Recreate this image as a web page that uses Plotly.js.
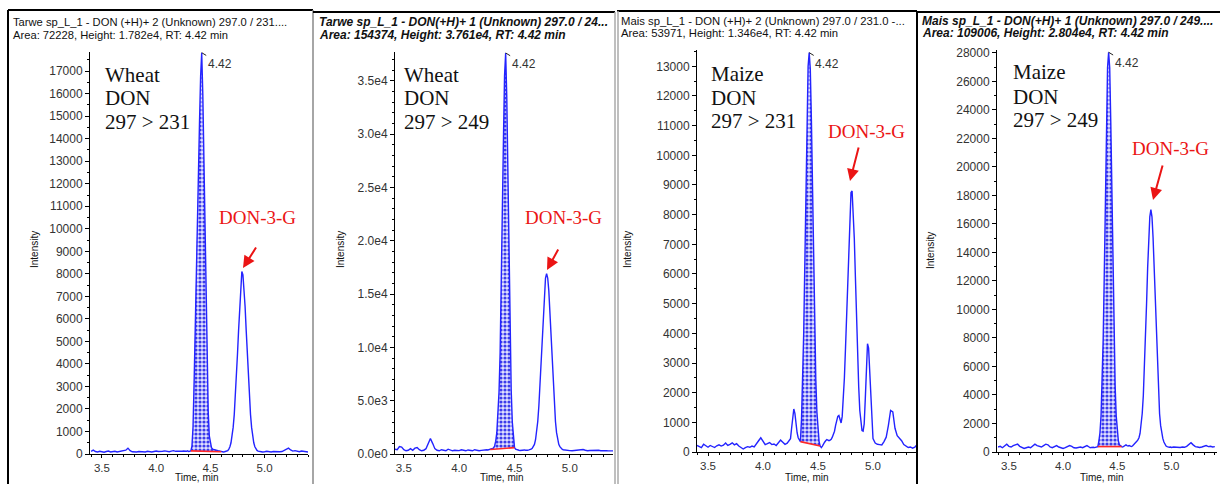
<!DOCTYPE html>
<html>
<head>
<meta charset="utf-8">
<script src="https://cdn.plot.ly/plotly-3.0.1.min.js"></script>
<style>html,body{margin:0;padding:0;background:#fff;}#chart{width:1220px;height:484px;}</style>
</head>
<body>
<div id="chart"></div>
<script>
// ---------------- DATA ----------------
const time = [
3.40,3.42,3.44,3.46,3.48,3.50,3.52,3.54,3.56,3.58,
3.60,3.62,3.64,3.66,3.68,3.70,3.72,3.74,3.76,3.78,
3.80,3.82,3.84,3.86,3.88,3.90,3.92,3.94,3.96,3.98,
4.00,4.02,4.04,4.06,4.08,4.10,4.12,4.14,4.16,4.18,
4.20,4.22,4.24,
4.25,4.26,4.27,4.28,4.29,4.30,4.31,4.32,4.33,4.34,
4.35,4.36,4.37,4.38,4.39,4.40,4.41,4.42,4.43,4.44,
4.45,4.46,4.47,4.48,4.49,4.50,4.51,4.52,4.53,4.54,
4.55,4.56,4.57,4.58,4.59,4.60,4.61,4.62,4.63,4.64,
4.65,4.66,4.67,4.68,4.69,4.70,4.71,4.72,4.73,4.74,
4.75,4.76,4.77,4.78,4.79,4.80,4.81,4.82,4.83,4.84,
4.85,4.86,4.87,4.88,4.89,4.90,4.91,4.92,4.93,4.94,
4.95,4.96,4.97,4.98,4.99,5.00,
5.02,5.04,5.06,5.08,5.10,5.12,5.14,5.16,5.18,5.20,
5.22,5.24,5.26,5.28,5.30,5.32,5.34,5.36,5.38,5.40];

const wheat231 = [
120,170,110,90,120,100,80,110,130,90,
100,120,90,110,100,130,170,260,150,100,
80,90,110,100,80,90,120,100,90,110,
130,110,100,120,140,110,100,130,150,120,
110,130,120,
130,120,110,120,140,110,120,140,350,1200,
3200,5800,8300,10600,12500,14800,16800,17820,16000,13000,
9800,6600,3800,1900,800,400,280,220,200,180,
170,160,150,140,120,100,100,90,100,110,
120,150,220,320,500,780,1180,1750,2500,3400,
4450,5500,6550,7400,8100,7950,7400,6550,5500,4450,
3400,2500,1750,1180,780,500,320,220,160,130,
110,120,100,90,110,100,
120,100,90,110,100,120,100,110,150,200,
260,180,130,150,120,100,130,110,100,90];

const wheat249 = [
500,450,400,700,650,400,300,350,500,350,
550,600,400,300,350,500,1000,1450,1000,500,
350,300,400,350,300,450,400,300,350,300,
320,400,350,300,380,350,300,400,350,300,
340,380,420,
400,380,400,420,440,480,550,750,1200,2000,
3500,5800,9500,15000,22000,29500,35500,37610,33500,26000,
18000,11000,6000,3000,1300,600,450,400,380,350,
330,350,380,400,380,350,330,350,380,400,
450,540,690,900,1340,2000,3050,4500,6400,8600,
11000,13300,15300,16500,16900,16500,15300,13300,11000,8600,
6400,4500,3050,2000,1340,900,690,540,450,400,
380,350,330,360,340,320,
300,330,350,320,380,420,350,300,330,350,
300,320,350,300,330,310,300,320,300,290];

const maize231 = [
220,180,150,260,200,160,220,180,150,210,
240,200,230,300,220,260,310,240,280,200,
160,100,150,180,160,200,170,260,380,480,
350,250,280,320,250,270,220,300,400,330,
260,300,380,
450,800,1250,1450,1300,900,650,480,400,350,
1100,2300,4000,6300,8900,11300,13000,13460,12900,11200,
8800,6300,4100,2450,1350,700,350,200,150,200,
280,330,380,420,400,380,400,430,500,580,
700,900,1100,1200,1230,1050,980,1200,1700,2500,
3500,4700,5900,7100,8100,8750,8800,8200,7200,5900,
4500,3200,2200,1400,950,720,700,950,1800,2900,
3650,3500,2700,1600,850,450,
300,260,250,240,350,500,900,1400,1350,800,
550,480,380,250,200,150,170,130,160,250];

const maize249 = [
350,400,300,450,550,400,350,450,500,550,
400,300,250,300,350,300,400,550,450,400,
350,450,550,500,350,300,350,450,350,300,
250,300,350,450,400,300,280,300,350,300,
400,450,350,
300,320,350,330,310,330,350,380,770,1350,
2540,4660,7990,12550,17900,23100,26950,28040,26950,23100,
17900,12550,7990,4660,2540,1350,770,500,420,380,
350,400,450,500,450,420,450,400,380,420,
500,550,600,750,850,1000,1300,1850,2700,3950,
5700,7900,10400,12900,15050,16500,17000,16500,15050,12900,
10400,7900,5700,3950,2700,1850,1300,950,700,500,
420,380,350,330,350,320,
350,330,300,320,350,330,400,550,650,500,
380,350,320,350,420,450,380,400,350,380];

const donStart = [4.32, 4.28, 4.34, 4.32];
const donEnd   = [4.60, 4.50, 4.52, 4.54];
const peakRT   = [4.42, 4.42, 4.42, 4.42];
const peakLabel = ["4.42", "4.42", "4.42", "4.42"];

const headerLine1 = [
  "Tarwe sp_L_1 - DON (+H)+ 2 (Unknown) 297.0 / 231....",
  "Tarwe sp_L_1 - DON(+H)+ 1 (Unknown) 297.0 / 24...",
  "Mais sp_L_1 - DON (+H)+ 2 (Unknown) 297.0 / 231.0 -...",
  "Mais sp_L_1 - DON(+H)+ 1 (Unknown) 297.0 / 249...."];
const headerLine2 = [
  "Area: 72228, Height: 1.782e4, RT: 4.42 min",
  "Area: 154374, Height: 3.761e4, RT: 4.42 min",
  "Area: 53971, Height: 1.346e4, RT: 4.42 min",
  "Area: 109006, Height: 2.804e4, RT: 4.42 min"];
const cropName = ["Wheat", "Wheat", "Maize", "Maize"];
const analyte = ["DON", "DON", "DON", "DON"];
const transition = ["297 > 231", "297 > 249", "297 > 231", "297 > 249"];
const glucosideLabel = "DON-3-G";
const yTitle = "Intensity";
const xTitle = "Time, min";
const xTickVals = [3.5, 4.0, 4.5, 5.0];
const xTickText = ["3.5", "4.0", "4.5", "5.0"];
const p2TickVals = [0, 5000, 10000, 15000, 20000, 25000, 30000, 35000];
const p2TickText = ["0.0e0", "5.0e3", "1.0e4", "1.5e4", "2.0e4", "2.5e4", "3.0e4", "3.5e4"];

const series = [wheat231, wheat249, maize231, maize249];

// ---------------- LAYOUT (pixel helpers) ----------------
const W = 1220, H = 484;
const px = v => v / W;
const py = v => 1 - v / H;
const boldHeader = [false, true, false, true];

const panels = [
  {xd:[90,308],  yd:[52,454], xr:[3.39,5.40], yr:[0,17850], dtick:1000, minor:500, hsize:11.2,
   hx:12, hy:[22,35], tx:104, ty:[75,98.5,122], gx:257, gy:218, arrow:[243,268,14,-22], ix:35, txc:197},
  {xd:[395,613], yd:[52,454], xr:[3.42,5.39], yr:[0,37700], dtick:null, minor:1000, hsize:12,
   hx:318, hy:[22,35], tx:403, ty:[75,98.5,122], gx:563, gy:218, arrow:[547,270,12,-22], ix:341, txc:502},
  {xd:[697,917], yd:[50,452], xr:[3.40,5.40], yr:[0,13550], dtick:1000, minor:500, hsize:11.3,
   hx:620, hy:[21,33], tx:710, ty:[74,97.5,121], gx:866, gy:131, arrow:[850,181,9,-35], ix:628, txc:807},
  {xd:[997,1217], yd:[50,452], xr:[3.39,5.42], yr:[0,28200], dtick:2000, minor:1000, hsize:12,
   hx:921, hy:[21,33], tx:1012, ty:[72,97,120], gx:1170, gy:148, arrow:[1153,200,10,-36], ix:931, txc:1102}
];

const tickFont = {family:"Liberation Sans, Arial, sans-serif", size:12, color:"#333"};
const xTickFont = {family:"Liberation Sans, Arial, sans-serif", size:11.5, color:"#333"};
const traces = [];
const layout = {
  width: W, height: H,
  margin: {l:0, r:0, t:0, b:0, pad:0},
  paper_bgcolor: "#fff", plot_bgcolor: "#fff",
  showlegend: false,
  annotations: [], shapes: []
};

panels.forEach((p, i) => {
  const sfx = i === 0 ? "" : String(i + 1);
  const xa = "x" + sfx, ya = "y" + sfx;
  const ys = series[i];

  // integrated DON peak (dotted fill)
  const fx = [], fy = [];
  time.forEach((t, k) => { if (t >= donStart[i] - 1e-9 && t <= donEnd[i] + 1e-9) { fx.push(t); fy.push(ys[k]); } });
  traces.push({x: fx, y: fy, xaxis: xa, yaxis: ya, mode: "lines", fill: "toself",
    line: {width: 0}, fillcolor: "rgb(226,226,255)",
    fillpattern: {shape: ".", fgcolor: "rgb(60,60,235)", bgcolor: "rgb(226,226,255)", size: 4, solidity: 0.5},
    hoverinfo: "skip"});
  // chromatogram line
  traces.push({x: time, y: ys, xaxis: xa, yaxis: ya, mode: "lines",
    line: {color: "rgb(35,35,255)", width: 1.4}, hoverinfo: "skip"});
  // red baseline
  traces.push({x: [fx[0], fx[fx.length - 1]], y: [fy[0], fy[fy.length - 1]], xaxis: xa, yaxis: ya,
    mode: "lines", line: {color: "rgb(255,40,40)", width: 1.6}, hoverinfo: "skip"});

  layout["xaxis" + sfx] = {
    domain: [px(p.xd[0]), px(p.xd[1])], range: p.xr, anchor: ya,
    showline: true, linecolor: "#000", linewidth: 1, mirror: false,
    ticks: "outside", ticklen: 3, tickcolor: "#000", tickwidth: 1,
    tickvals: xTickVals, ticktext: xTickText,
    minor: {dtick: 0.1, tick0: 3.5, ticks: "outside", ticklen: 2, tickcolor: "#000"},
    showgrid: false, zeroline: false, tickfont: xTickFont, fixedrange: true
  };
  const yax = {
    domain: [py(p.yd[1]), py(p.yd[0])], range: p.yr, anchor: xa,
    showline: true, linecolor: "#000", linewidth: 1,
    ticks: "outside", ticklen: 4, tickcolor: "#000", tickwidth: 1,
    minor: {dtick: p.minor, ticks: "outside", ticklen: 2, tickcolor: "#000"},
    showgrid: false, zeroline: false, tickfont: tickFont, fixedrange: true
  };
  if (p.dtick) { yax.dtick = p.dtick; yax.tick0 = 0; yax.tickformat = "d"; }
  else { yax.tickvals = p2TickVals; yax.ticktext = p2TickText; }
  layout["yaxis" + sfx] = yax;

  const ann = layout.annotations;
  const hfont = {family: "Liberation Sans, Arial, sans-serif", size: p.hsize, color: "#111"};
  const wrap = s => boldHeader[i] ? "<b><i>" + s + "</i></b>" : s;
  ann.push({xref: "paper", yref: "paper", x: px(p.hx), y: py(p.hy[0]), xanchor: "left", yanchor: "middle",
    text: wrap(headerLine1[i]), showarrow: false, font: hfont, borderpad: 0});
  ann.push({xref: "paper", yref: "paper", x: px(p.hx), y: py(p.hy[1]), xanchor: "left", yanchor: "middle",
    text: wrap(headerLine2[i]), showarrow: false, font: hfont, borderpad: 0});

  const sfont = {family: "Liberation Serif, Times New Roman, serif", size: 21, color: "#111"};
  [cropName[i], analyte[i], transition[i]].forEach((t, k) => {
    ann.push({xref: "paper", yref: "paper", x: px(p.tx), y: py(p.ty[k]), xanchor: "left", yanchor: "middle",
      text: t, showarrow: false, font: sfont, borderpad: 0});
  });

  ann.push({xref: "paper", yref: "paper", x: px(p.gx), y: py(p.gy), xanchor: "center", yanchor: "middle",
    text: glucosideLabel, showarrow: false,
    font: {family: "Liberation Serif, Times New Roman, serif", size: 19, color: "rgb(235,20,20)"}});
  ann.push({xref: "paper", yref: "paper", x: px(p.arrow[0]), y: py(p.arrow[1]), ax: p.arrow[2], ay: p.arrow[3],
    text: "", showarrow: true, arrowcolor: "rgb(235,20,20)", arrowwidth: 2, arrowhead: 2, arrowsize: 1.2});

  // apex label
  const kApex = time.findIndex(t => Math.abs(t - peakRT[i]) < 1e-9);
  ann.push({xref: xa, yref: ya, x: peakRT[i], y: ys[kApex], ax: 18, ay: 11,
    text: peakLabel[i], showarrow: true, arrowhead: 0, arrowwidth: 1, arrowcolor: "#222",
    font: {family: "Liberation Sans, Arial, sans-serif", size: 12, color: "#333"}});

  ann.push({xref: "paper", yref: "paper", x: px(p.ix), y: py(250), xanchor: "center", yanchor: "middle",
    text: yTitle, textangle: -90, showarrow: false,
    font: {family: "Liberation Sans, Arial, sans-serif", size: 10, color: "#111"}});
  ann.push({xref: "paper", yref: "paper", x: px(p.txc), y: 0, xanchor: "center", yanchor: "bottom",
    text: xTitle, showarrow: false, borderpad: 0,
    font: {family: "Liberation Sans, Arial, sans-serif", size: 10, color: "#111"}});
});

// panel frames
const ln = (x0, y0, x1, y1, c, w) => ({type: "line", xref: "paper", yref: "paper",
  x0: px(x0), y0: py(y0), x1: px(x1), y1: py(y1), line: {color: c, width: w}});
layout.shapes.push(
  ln(8, 10, 8, 484, "#000", 2),
  ln(8, 10, 313, 10, "#000", 2),
  ln(313, 10, 313, 484, "#888", 1.5),
  ln(313, 12, 615, 12, "#000", 2),
  ln(615, 12, 615, 484, "#aaa", 1.5),
  ln(617, 11, 917, 11, "#000", 2),
  ln(618, 11, 618, 484, "#aaa", 1.5),
  ln(917, 11, 917, 484, "#000", 2),
  ln(918, 12, 1220, 12, "#000", 2)
);

Plotly.newPlot("chart", traces, layout, {staticPlot: true, displayModeBar: false});
</script>
</body>
</html>
